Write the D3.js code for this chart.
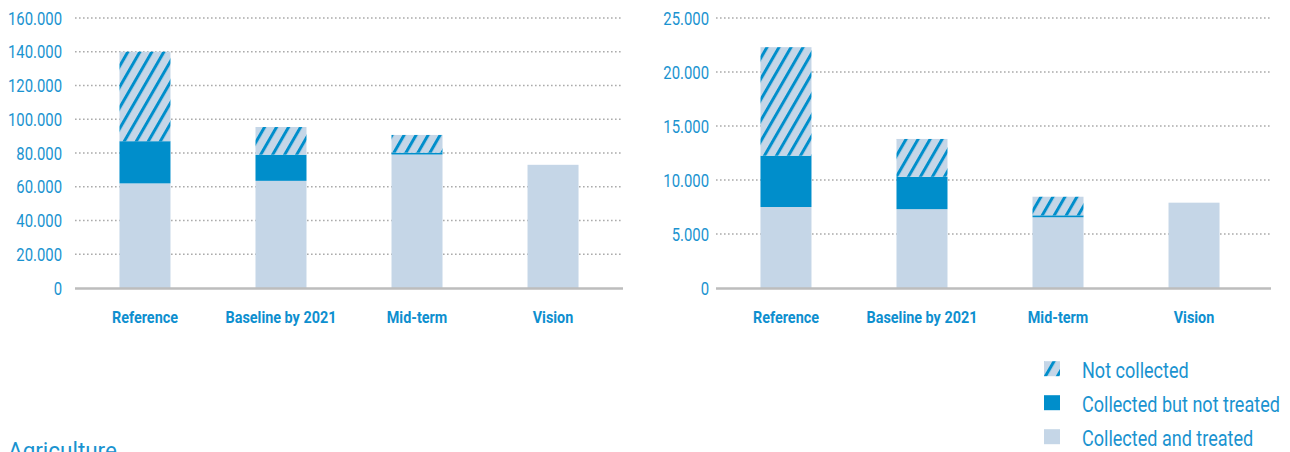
<!DOCTYPE html>
<html>
<head>
<meta charset="utf-8">
<script src="https://cdn.jsdelivr.net/npm/d3@7"></script>
<style>
  html, body { margin: 0; padding: 0; background: #fff; }
  svg { display: block; }
  text { font-family: Roboto, "Liberation Sans", sans-serif; }
</style>
</head>
<body>
<svg id="chart" width="1290" height="452"></svg>
<script>
// ---- data ----
const categories = ["Reference", "Baseline by 2021", "Mid-term", "Vision"];

// Left chart
const leftTreated      = [62000, 63500, 79100, 73000];
const leftNotTreated   = [25000, 15500, 1100, 0];
const leftNotCollected = [53000, 16400, 10500, 0];
const leftTicks = [0, 20000, 40000, 60000, 80000, 100000, 120000, 140000, 160000];

// Right chart
const rightTreated      = [7500, 7300, 6550, 7900];
const rightNotTreated   = [4750, 3000, 180, 0];
const rightNotCollected = [10050, 3500, 1720, 0];
const rightTicks = [0, 5000, 10000, 15000, 20000, 25000];

const legendItems = ["Not collected", "Collected but not treated", "Collected and treated"];
const sectionTitle = "Agriculture";

// ---- styles ----
const C_LIGHT = "#c5d6e7";
const C_BLUE = "#008ecb";
const C_TEXT = "#1a93d0";

const svg = d3.select("#chart");
const defs = svg.append("defs");
const pat = defs.append("pattern")
  .attr("id", "hatch")
  .attr("patternUnits", "userSpaceOnUse")
  .attr("width", 10.4).attr("height", 10.4)
  .attr("patternTransform", "rotate(30)");
pat.append("rect").attr("width", 10.4).attr("height", 10.4).attr("fill", C_LIGHT);
pat.append("rect").attr("x", 0).attr("width", 3).attr("height", 10.4).attr("fill", C_BLUE);

const fmtLocale = d3.formatLocale({ decimal: ",", thousands: ".", grouping: [3], currency: ["", "€"] });
const fmt = fmtLocale.format(",d");

// condensed look: measure a reference string and squeeze horizontally
function measure(str, size, weight) {
  const t = svg.append("text").attr("font-size", size).attr("font-weight", weight).text(str);
  const w = t.node().getComputedTextLength();
  t.remove();
  return w;
}
function condense(sel, f) {
  sel.each(function () {
    const s = d3.select(this);
    const x = +s.attr("x"), y = +s.attr("y");
    s.attr("x", 0).attr("y", 0).attr("transform", `translate(${x},${y}) scale(${f},1)`);
  });
}

const TICK_FS = 18, CAT_FS = 16.5, LEG_FS = 22, TITLE_FS = 23;
const fTick = 54 / measure("160.000", TICK_FS, 400);
const fCat = 111 / measure("Baseline by 2021", CAT_FS, 700);
const fLeg = 198 / measure("Collected but not treated", LEG_FS, 400);
const fTitle = 109 / measure("Agriculture", TITLE_FS, 400);

function drawChart(cfg) {
  const g = svg.append("g");
  const y = d3.scaleLinear().domain([0, cfg.max]).range([288, 18]);
  const x = d3.scaleBand().domain(categories).range(cfg.bandRange)
    .paddingInner(0.625).paddingOuter(0.327);

  // gridlines
  g.selectAll("line.grid").data(cfg.ticks.filter(d => d > 0)).enter().append("line")
    .attr("x1", cfg.gridRange[0]).attr("x2", cfg.gridRange[1])
    .attr("y1", d => y(d)).attr("y2", d => y(d))
    .attr("stroke", "#ababab").attr("stroke-width", 1.3)
    .attr("stroke-dasharray", "1.6,2.4");

  // tick labels
  const tl = g.selectAll("text.tick").data(cfg.ticks).enter().append("text")
    .attr("x", cfg.labelX).attr("y", d => y(d) + 6.5)
    .attr("text-anchor", "end")
    .attr("fill", C_TEXT).attr("font-size", TICK_FS)
    .text(d => fmt(d));
  condense(tl, fTick);

  // stacked bars
  const rows = categories.map((c, i) => ({
    cat: c, treated: cfg.treated[i], notTreated: cfg.notTreated[i], notCollected: cfg.notCollected[i]
  }));
  const stack = d3.stack().keys(["treated", "notTreated", "notCollected"])(rows);
  const fills = { treated: C_LIGHT, notTreated: C_BLUE, notCollected: "url(#hatch)" };
  stack.forEach(layer => {
    g.selectAll(null).data(layer.filter(d => d[1] > d[0])).enter().append("rect")
      .attr("x", d => x(d.data.cat))
      .attr("width", x.bandwidth())
      .attr("y", d => y(d[1]))
      .attr("height", d => y(d[0]) - y(d[1]))
      .attr("fill", fills[layer.key]);
  });

  // baseline
  g.append("line")
    .attr("x1", cfg.gridRange[0]).attr("x2", cfg.gridRange[1])
    .attr("y1", y(0) + 0.5).attr("y2", y(0) + 0.5)
    .attr("stroke", "#bdbdbd").attr("stroke-width", 2.5);

  // category labels
  const cl = g.selectAll("text.cat").data(categories).enter().append("text")
    .attr("x", d => x(d) + x.bandwidth() / 2)
    .attr("y", 322.5)
    .attr("text-anchor", "middle")
    .attr("fill", "#0e8fcf").attr("font-size", CAT_FS).attr("font-weight", 700)
    .text(d => d);
  condense(cl, fCat);
}

drawChart({
  max: 160000, ticks: leftTicks,
  treated: leftTreated, notTreated: leftNotTreated, notCollected: leftNotCollected,
  bandRange: [75, 623], gridRange: [75, 623], labelX: 62
});
drawChart({
  max: 25000, ticks: rightTicks,
  treated: rightTreated, notTreated: rightNotTreated, notCollected: rightNotCollected,
  bandRange: [716, 1264], gridRange: [716, 1271], labelX: 709
});

// legend
const legFill = { "Not collected": "url(#hatch)", "Collected but not treated": C_BLUE, "Collected and treated": C_LIGHT };
const leg = svg.append("g");
legendItems.forEach((name, i) => {
  const base = 377.7 + i * 34;
  leg.append("rect").attr("x", 1044).attr("y", base - 16.5).attr("width", 16).attr("height", 15)
    .attr("fill", legFill[name]);
  const t = leg.append("text").attr("x", 1082).attr("y", base)
    .attr("fill", C_TEXT).attr("font-size", LEG_FS).text(name);
  condense(t, fLeg);
});

// section title (cut off at bottom, as in the reference)
const tt = svg.append("text").attr("x", 8).attr("y", 459)
  .attr("fill", C_TEXT).attr("font-size", TITLE_FS).attr("font-weight", 400)
  .text(sectionTitle);
condense(tt, fTitle);
</script>
</body>
</html>
